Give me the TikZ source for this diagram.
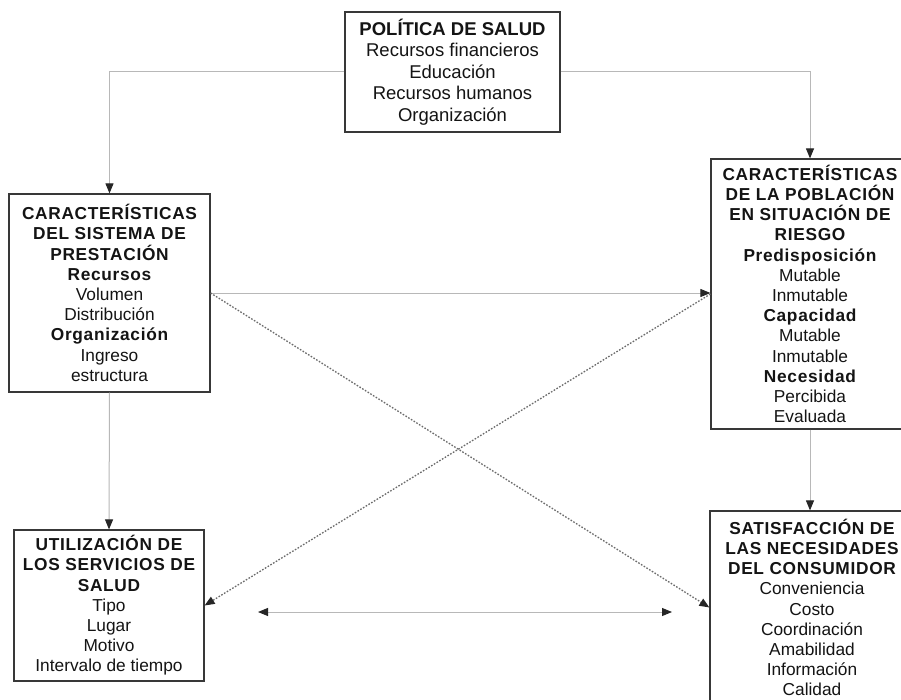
\documentclass[tikz,border=0pt]{standalone}
\usepackage{fontspec}
\setmainfont{Liberation Sans}
\usetikzlibrary{arrows.meta}
% spaced bold headings
\newcommand\hd{\bfseries\addfontfeature{LetterSpace=4}}
\begin{document}
\begin{tikzpicture}[x=1pt,y=-1pt,
  box/.style={draw=black!78, line width=1.2pt, align=center, inner sep=0pt, text=black!92},
  sidetext/.style={font=\fontsize{17.3}{20.2}\selectfont},
  toptext/.style={font=\fontsize{18.5}{21.6}\selectfont},
  tipblk/.style={-{Triangle[length=10pt,width=8pt,color=black!85]}},
  conn/.style={draw=black!28, line width=1pt, tipblk},
  diag/.style={draw=black!58, line width=1.3pt, dash pattern=on 1.6pt off 1.6pt, tipblk}]
\useasboundingbox (0,0) rectangle (901,700);
\fill[white] (0,0) rectangle (901,700);
\clip (0,0) rectangle (901,700);

% policy box
\node[box, toptext, minimum width=215pt, minimum height=120pt] (pol) at (452.5,72)
  {\textbf{POLÍTICA DE SALUD}\\Recursos financieros\\Educación\\Recursos humanos\\Organización};

% delivery system
\node[box, sidetext, minimum width=201pt, minimum height=198pt] (sis) at (109.5,293)
  {{\hd CARACTERÍSTICAS}\\{\hd DEL SISTEMA DE}\\{\hd PRESTACIÓN}\\{\hd Recursos}\\Volumen\\Distribución\\{\hd Organización}\\Ingreso\\estructura};

% population at risk
\node[box, sidetext, minimum width=198pt, minimum height=270pt] (pob) at (810,294)
  {{\hd CARACTERÍSTICAS}\\{\hd DE LA POBLACIÓN}\\{\hd EN SITUACIÓN DE}\\{\hd RIESGO}\\{\hd Predisposición}\\Mutable\\Inmutable\\{\hd Capacidad}\\Mutable\\Inmutable\\{\hd Necesidad}\\Percibida\\Evaluada};

% utilisation
\node[box, sidetext, minimum width=190pt, minimum height=151pt] (uti) at (109,605.5)
  {{\hd UTILIZACIÓN DE}\\{\hd LOS SERVICIOS DE}\\{\hd SALUD}\\Tipo\\Lugar\\Motivo\\Intervalo de tiempo};

% consumer satisfaction
\node[box, sidetext, minimum width=204pt, minimum height=193pt] (sat) at (812,607.5)
  {{\hd SATISFACCIÓN DE}\\{\hd LAS NECESIDADES}\\{\hd DEL CONSUMIDOR}\\Conveniencia\\Costo\\Coordinación\\Amabilidad\\Información\\Calidad};

% free ends of the lower two-way arrow
\coordinate (ul) at (258,612);
\coordinate (ur) at (672,612);

% connectors
\draw[conn] (pol.west) -| (sis.north);
\draw[conn] (pol.east) -| (pob.north);
\draw[conn] (sis.east) -- (sis.east -| pob.west);
\draw[conn] (sis.south) -- (uti.north);
\draw[conn] (pob.south) -- (pob.south |- sat.north);
\draw[conn, {Triangle[length=10pt,width=8pt,color=black!85]}-{Triangle[length=10pt,width=8pt,color=black!85]}] (ul) -- (ur);
\draw[diag] (sis.east) -- (sat.west);
\draw[diag] (pob.west) -- (uti.east);
\end{tikzpicture}
\end{document}
